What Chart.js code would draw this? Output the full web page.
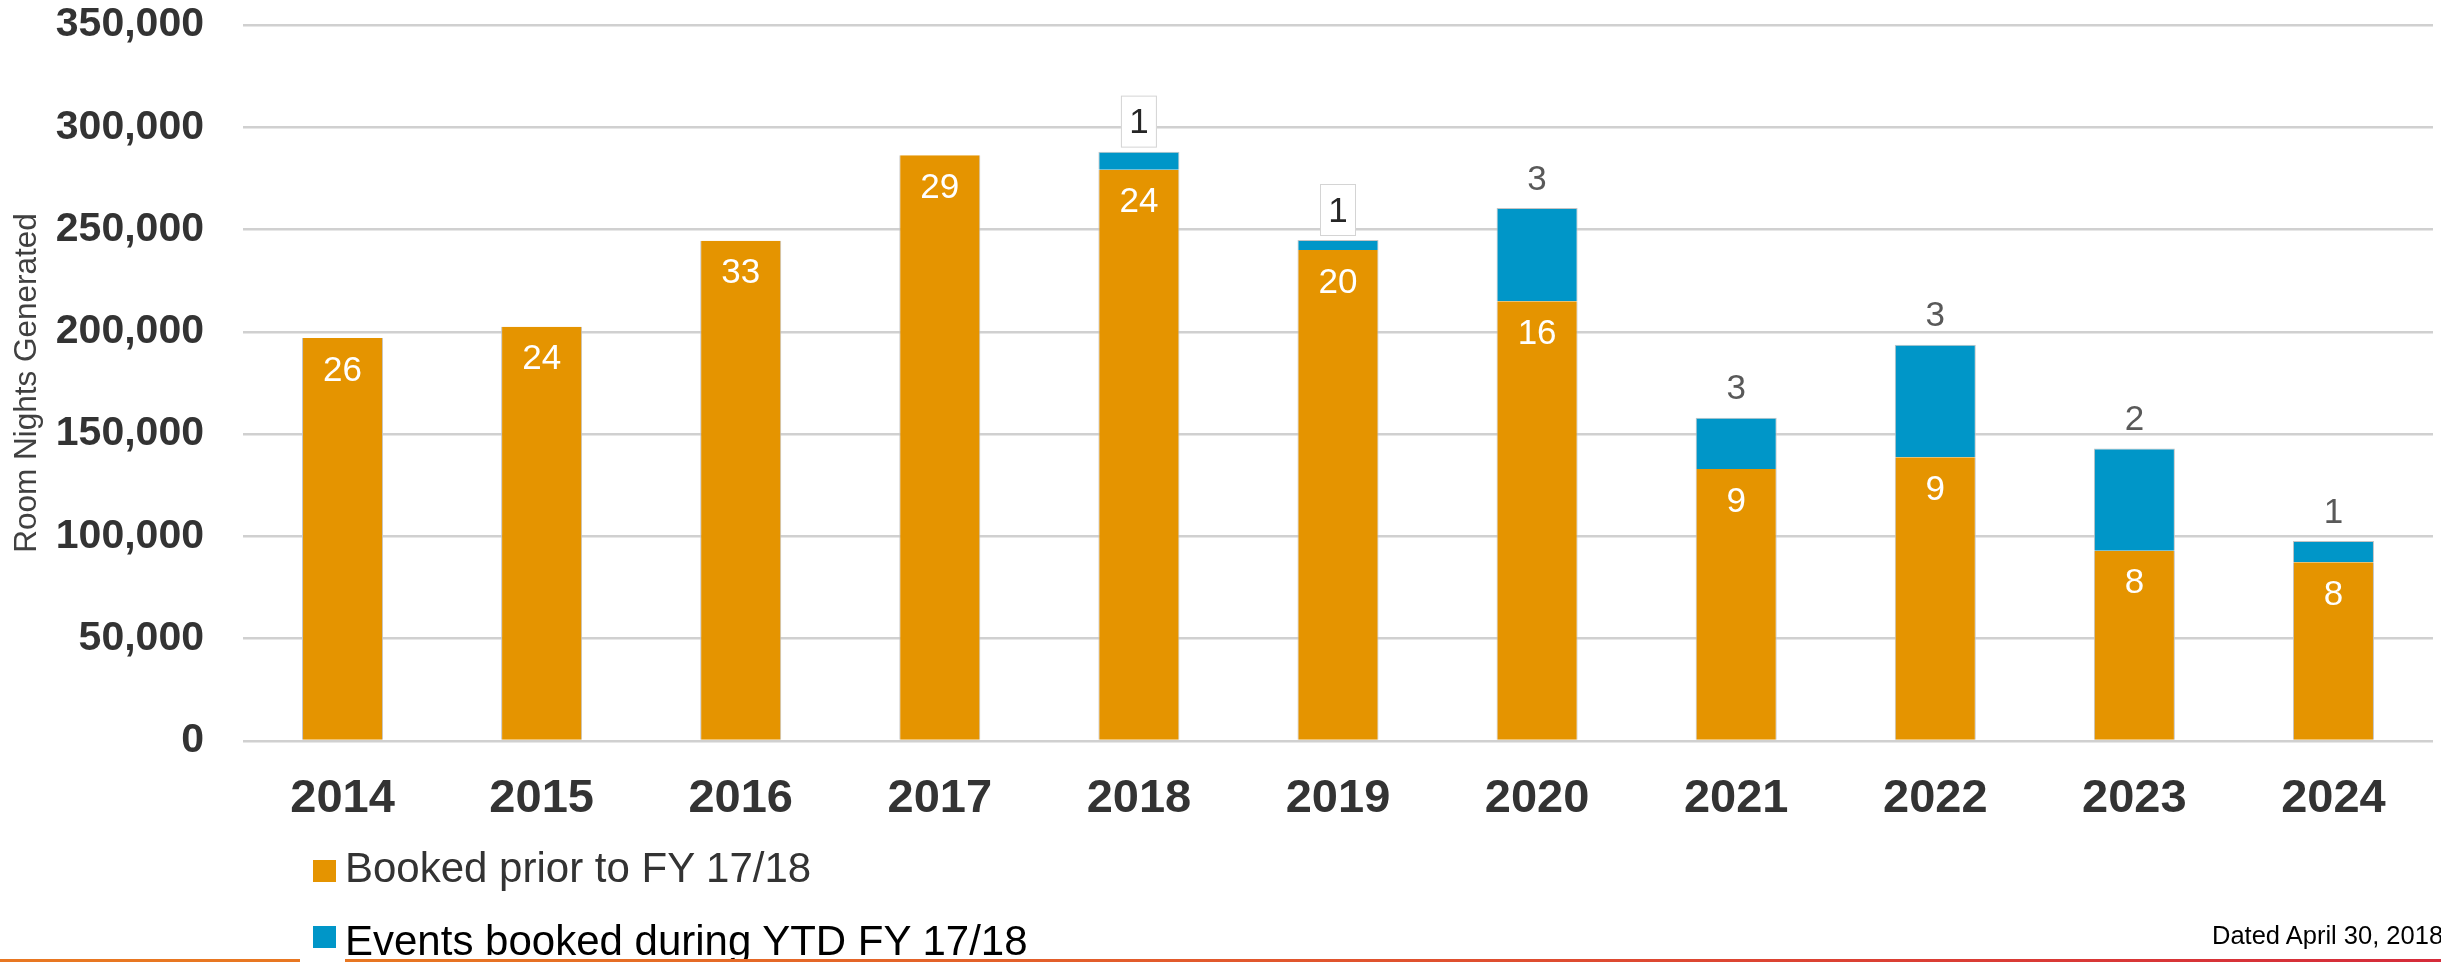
<!DOCTYPE html>
<html>
<head>
<meta charset="utf-8">
<title>Room Nights Generated</title>
<script src="https://cdn.jsdelivr.net/npm/chart.js@4.4.1/dist/chart.umd.min.js"></script>
<style>
    body { margin: 0; width: 2441px; height: 962px; background: #fff; overflow: hidden; position: relative; font-family: "Liberation Sans", Arial, sans-serif; }
    #wrap { position: absolute; left: 0; top: 0; width: 2441px; height: 962px; }
    .legend-item { position: absolute; left: 313px; font-size: 42px; line-height: 42px; white-space: nowrap; }
    .legend-item span.box { position: absolute; left: 0; width: 23px; height: 22px; }
    .legend-item span.txt { position: absolute; left: 32px; top: 0; }
    #dated { position: absolute; left: 2212px; top: 923px; font-size: 25.5px; line-height: 25px; color: #000; white-space: nowrap; }
    .rule { position: absolute; top: 959px; height: 3px; }
</style>
</head>
<body>
<div id="wrap"><canvas id="myChart"></canvas></div>
<div id="legend"></div>
<div id="dated">Dated April 30, 2018</div>
<div class="rule" style="left:0;width:300px;background:#e87722"></div>
<div class="rule" style="left:345px;width:2096px;background:linear-gradient(to right,#e87722 0%,#e25a2c 40%,#d52b3a 100%)"></div>
<script>
// fiscal years on the x axis
const years = ['2014', '2015', '2016', '2017', '2018', '2019', '2020', '2021', '2022', '2023', '2024'];

// room nights booked before FY 17/18
const bookedPrior = [197000, 202500, 244500, 286300, 279300, 240000, 215000, 133000, 138700, 93000, 87400];
// room nights from events booked during YTD FY 17/18
const bookedYtd = [null, null, null, null, 8800, 4900, 45600, 25000, 55000, 50000, 10400];

// number of events in each segment (the labels on the bars)
const priorCounts = [26, 24, 33, 29, 24, 20, 16, 9, 9, 8, 8];
const ytdCounts = [null, null, null, null, 1, 1, 3, 3, 3, 2, 1];

const yTicks = [0, 50000, 100000, 150000, 200000, 250000, 300000, 350000];

const seriesNames = ['Booked prior to FY 17/18', 'Events booked during YTD FY 17/18'];
const ORANGE = '#e59400';
const BLUE = '#0096c8';
const FONT = '"Liberation Sans", Arial, sans-serif';

// draws the event counts: white inside the orange bars, grey above the stack
const barLabels = {
    id: 'barLabels',
    afterDatasetsDraw(chart, args, opts) {
        const ctx = chart.ctx;
        const prior = chart.getDatasetMeta(0).data;
        const ytd = chart.getDatasetMeta(1).data;
        ctx.save();
        ctx.textAlign = 'center';
        ctx.textBaseline = 'middle';
        ctx.font = '35px ' + FONT;
        prior.forEach((bar, i) => {
            ctx.fillStyle = '#ffffff';
            ctx.fillText(priorCounts[i], bar.x, bar.y + 33);
        });
        ytd.forEach((bar, i) => {
            if (ytdCounts[i] == null) {
                return;
            }
            const y = bar.y - 30;
            if (opts.boxed.includes(i)) {
                ctx.fillStyle = '#ffffff';
                ctx.fillRect(bar.x - 18, y - 26, 36, 52);
                ctx.strokeStyle = '#d4d4d4';
                ctx.lineWidth = 1;
                ctx.strokeRect(bar.x - 18 + 0.5, y - 26 + 0.5, 35, 51);
                ctx.fillStyle = '#262626';
            } else {
                ctx.fillStyle = '#595959';
            }
            ctx.fillText(ytdCounts[i], bar.x, y + 2);
        });
        ctx.restore();
    }
};

function buildLegend() {
    const legendElem = document.getElementById('legend');
    const colors = [ORANGE, BLUE];
    const tops = [847, 920];
    const textColors = ['#333333', '#000000'];
    seriesNames.forEach((name, i) => {
        const item = document.createElement('div');
        item.className = 'legend-item';
        item.style.top = tops[i] + 'px';
        item.style.color = textColors[i];
        const box = document.createElement('span');
        box.className = 'box';
        box.style.background = colors[i];
        box.style.top = (i == 0 ? 13 : 6) + 'px';
        const txt = document.createElement('span');
        txt.className = 'txt';
        txt.textContent = name;
        item.appendChild(box);
        item.appendChild(txt);
        legendElem.appendChild(item);
    });
}

function initChart() {
    const ctx = document.getElementById('myChart').getContext('2d');
    new Chart(ctx, {
        type: 'bar',
        data: {
            labels: years,
            datasets: [{
                label: seriesNames[0],
                data: bookedPrior,
                backgroundColor: ORANGE,
                borderColor: '#c4c4c4',
                borderWidth: { left: 1, right: 1, top: 0, bottom: 0 },
                borderSkipped: false,
                categoryPercentage: 1,
                barPercentage: 0.407
            }, {
                label: seriesNames[1],
                data: bookedYtd,
                backgroundColor: BLUE,
                borderColor: '#c4c4c4',
                borderWidth: { left: 1, right: 1, top: 1, bottom: 0 },
                borderSkipped: false,
                categoryPercentage: 1,
                barPercentage: 0.407
            }]
        },
        options: {
            responsive: true,
            maintainAspectRatio: false,
            animation: false,
            layout: { padding: { top: 25, right: 8, left: 0, bottom: 0 } },
            plugins: {
                legend: { display: false },
                tooltip: { enabled: false },
                barLabels: { boxed: [4, 5] }
            },
            scales: {
                x: {
                    stacked: true,
                    grid: { display: false, drawTicks: false },
                    border: { display: false },
                    ticks: {
                        color: '#333333',
                        padding: 30,
                        font: { family: FONT, size: 47, weight: 'bold' }
                    },
                    afterFit: (scale) => {
                        scale.height = 962 - 741;
                        scale.paddingLeft = 0;
                        scale.paddingRight = 0;
                    }
                },
                y: {
                    stacked: true,
                    min: 0,
                    max: 350000,
                    afterBuildTicks: (scale) => { scale.ticks = yTicks.map(v => ({ value: v })); },
                    grid: { color: '#d0d0d0', lineWidth: 2.5, drawTicks: false },
                    border: { display: false },
                    ticks: {
                        color: '#333333',
                        padding: 39,
                        font: { family: FONT, size: 41, weight: 'bold' },
                        callback: (v) => v.toLocaleString('en-US')
                    },
                    title: {
                        display: true,
                        text: 'Room Nights Generated',
                        color: '#404040',
                        padding: { top: 8, bottom: 0 },
                        font: { family: FONT, size: 31.5 }
                    },
                    afterFit: (scale) => {
                        scale.width = 243;
                        scale.paddingTop = 0;
                        scale.paddingBottom = 0;
                    }
                }
            }
        },
        plugins: [barLabels]
    });
}

buildLegend();
initChart();
</script>
</body>
</html>
